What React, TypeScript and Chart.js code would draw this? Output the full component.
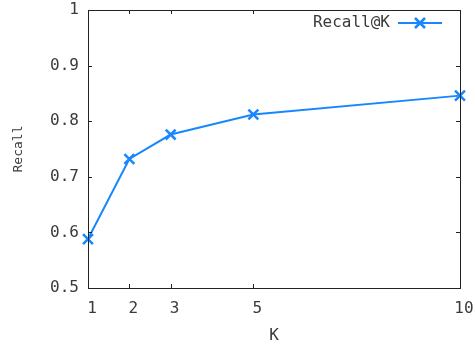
import React, { useEffect, useRef } from "react";
import { Chart, registerables } from "chart.js";

Chart.register(...registerables);

const kValues = [1, 2, 3, 5, 10];
const recallValues = [0.588, 0.732, 0.776, 0.812, 0.846];
const xTickValues = [1, 2, 3, 5, 10];
const yTickValues = [0.5, 0.6, 0.7, 0.8, 0.9, 1];
const yTickLabels = ["0.5", "0.6", "0.7", "0.8", "0.9", "1"];
const seriesLabel = "Recall@K";
const xTitle = "K";
const yTitle = "Recall";

const LINE_COLOR = "#1787ff";
const TEXT_COLOR = "#3a3a3a";
const FRAME_COLOR = "#222222";
const FONT = "'DejaVu Sans Mono', 'Liberation Mono', monospace";

const framePlugin = {
  id: "gnuFrame",
  afterDraw(chart: any) {
    const { ctx, chartArea } = chart;
    const { left, top, right, bottom } = chartArea;
    const xs = chart.scales.x;
    const ys = chart.scales.y;
    ctx.save();
    ctx.strokeStyle = FRAME_COLOR;
    ctx.lineWidth = 1;
    ctx.strokeRect(left + 0.5, top + 0.5, right - left, bottom - top);
    const tl = 4;
    ctx.beginPath();
    xTickValues.forEach((v) => {
      const px = Math.round(xs.getPixelForValue(v)) + 0.5;
      ctx.moveTo(px, bottom);
      ctx.lineTo(px, bottom - tl);
      ctx.moveTo(px, top);
      ctx.lineTo(px, top + tl);
    });
    yTickValues.forEach((v) => {
      const py = Math.round(ys.getPixelForValue(v)) + 0.5;
      ctx.moveTo(left, py);
      ctx.lineTo(left + tl, py);
      ctx.moveTo(right, py);
      ctx.lineTo(right - tl, py);
    });
    ctx.stroke();

    // legend (gnuplot style: text then line sample)
    const ds = chart.data.datasets[0];
    const ly = 23;
    ctx.font = `16px ${FONT}`;
    ctx.fillStyle = TEXT_COLOR;
    ctx.textAlign = "right";
    ctx.textBaseline = "middle";
    ctx.fillText(ds.label, 390, ly);
    ctx.strokeStyle = LINE_COLOR;
    ctx.lineWidth = 2;
    ctx.beginPath();
    ctx.moveTo(398, ly);
    ctx.lineTo(442, ly);
    ctx.stroke();
    const r = 5;
    ctx.lineWidth = 2.5;
    ctx.beginPath();
    ctx.moveTo(420 - r, ly - r);
    ctx.lineTo(420 + r, ly + r);
    ctx.moveTo(420 + r, ly - r);
    ctx.lineTo(420 - r, ly + r);
    ctx.stroke();
    ctx.restore();
  },
};

export default function App() {
  const ref = useRef<HTMLCanvasElement>(null);
  useEffect(() => {
    if (!ref.current) return;
    const chart = new Chart(ref.current, {
      type: "line",
      data: {
        datasets: [
          {
            label: seriesLabel,
            data: kValues.map((k, i) => ({ x: k, y: recallValues[i] })),
            borderColor: LINE_COLOR,
            backgroundColor: LINE_COLOR,
            borderWidth: 2,
            pointStyle: "crossRot",
            pointRadius: 7,
            pointBorderWidth: 2.5,
            pointBorderColor: LINE_COLOR,
            tension: 0,
            fill: false,
            clip: false,
          },
        ],
      },
      options: {
        animation: false,
        responsive: false,
        maintainAspectRatio: false,
        layout: { padding: { left: 0, top: 10, right: 15, bottom: 0 } },
        plugins: {
          legend: { display: false },
          tooltip: { enabled: false },
        },
        scales: {
          x: {
            type: "linear",
            min: 1,
            max: 10,
            grid: { display: false, drawTicks: false },
            border: { display: false },
            afterBuildTicks: (scale: any) => {
              scale.ticks = xTickValues.map((v) => ({ value: v }));
            },
            afterFit: (scale: any) => {
              scale.height = 57;
              scale.paddingLeft = 0;
              scale.paddingRight = 0;
            },
            ticks: {
              color: TEXT_COLOR,
              font: { family: FONT, size: 16 },
              padding: 11,
              labelOffset: 4,
              maxRotation: 0,
              autoSkip: false,
              callback: (v: any) => String(v),
            },
            title: {
              display: true,
              text: xTitle,
              color: TEXT_COLOR,
              font: { family: FONT, size: 16 },
              padding: { top: 0, bottom: 0 },
            },
          },
          y: {
            type: "linear",
            min: 0.5,
            max: 1,
            grid: { display: false, drawTicks: false },
            border: { display: false },
            afterBuildTicks: (scale: any) => {
              scale.ticks = yTickValues.map((v) => ({ value: v }));
            },
            afterFit: (scale: any) => {
              scale.width = 88;
              scale.paddingTop = 0;
              scale.paddingBottom = 0;
            },
            ticks: {
              color: TEXT_COLOR,
              font: { family: FONT, size: 16 },
              padding: 9,
              autoSkip: false,
              callback: (v: any) => {
                const i = yTickValues.findIndex((t) => Math.abs(t - v) < 1e-9);
                return i >= 0 ? yTickLabels[i] : "";
              },
            },
            title: {
              display: true,
              text: yTitle,
              color: TEXT_COLOR,
              font: { family: FONT, size: 13 },
              padding: { top: 11, bottom: 0 },
            },
          },
        },
      },
      plugins: [framePlugin],
    } as any);
    return () => chart.destroy();
  }, []);
  return (
    <div style={{ position: "fixed", left: 0, top: 0, width: 475, height: 345, background: "#fff" }}>
      <canvas ref={ref} width={475} height={345} style={{ width: 475, height: 345 }} />
    </div>
  );
}
